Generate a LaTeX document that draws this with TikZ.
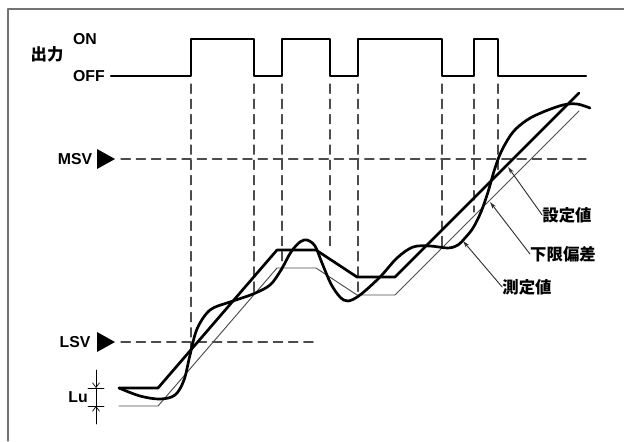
\documentclass[tikz,border=0pt]{standalone}
\usepackage{fontspec}
\setmainfont{Liberation Sans}
\newfontfamily\jpfont{Noto Sans CJK JP}
\usetikzlibrary{arrows.meta}

\begin{document}
\begin{tikzpicture}[line cap=round,line join=round,x=0.03cm,y=-0.03cm,
  lbl/.style={font=\fontsize{13.5}{15}\selectfont\bfseries,inner sep=0pt},
  jlbl/.style={font=\fontsize{14}{16}\selectfont\jpfont\bfseries,inner sep=0pt},
  guide/.style={line width=0.9pt,color=black!70,dash pattern=on 8pt off 5pt},
  pulse/.style={line width=1.9pt},
  heavy/.style={line width=2.3pt},
  lower/.style={line width=0.8pt,color=black!70},
  leader/.style={line width=0.8pt,color=black!80,-{Stealth[length=6pt,width=3.5pt]}},
  tol/.style={line width=0.6pt,-{Straight Barb[length=4pt,width=6pt]}}]
\useasboundingbox (0,0) rectangle (624,441);
\draw [line width=1.1pt,color=black!55] (8,441)--(8,9)--(624,9);
\node[jlbl] (output) at (47,54) {出力};
\node[lbl] (on) at (85,39) {ON};
\node[lbl] (off) at (89,76) {OFF};
\node[lbl] (msv) at (75,159) {MSV};
\node[lbl] (lsv) at (75,342) {LSV};
\node[lbl] (lu) at (78,397) {Lu};
\node[jlbl] (setlbl) at (567,215) {設定値};
\node[jlbl] (lowlbl) at (563,254) {下限偏差};
\node[jlbl] (measlbl) at (527,287) {測定値};
\draw [pulse] ([xshift=5pt]off.east)--(191,76)--(191,39)--(254,39)--(254,76)--(282,76)--(282,39)--(330,39)--(330,76)--(358,76)--(358,39)--(442,39)--(442,76)--(474,76)--(474,39)--(498,39)--(498,76)--(586,76);
\foreach \x/\y in {191/350,254/293,282/270,330/251,358/292,442/248,474/212,498/170}
  \draw [guide] (\x,84)--(\x,\y);
\fill (97,149)--(115,159)--(97,169)--cycle;
\fill (97,332)--(115,342)--(97,352)--cycle;
\draw [guide] (121,159)--(586,159);
\draw [guide] (121,342)--(318,342);
\draw [line width=0.7pt] (88,388)--(104,388);
\draw [line width=0.7pt] (88,406)--(104,406);
\draw [line width=0.6pt] (96,388)--(96,406);
\draw [tol] (96,370)--(96,388);
\draw [tol] (96,424)--(96,406);
\draw [lower] (119,406)--(158,406)--(277,268)--(316,268)--(357,295)--(395,295)--(579,111);
\draw [heavy] (119,388)--(158,388)--(277,250)--(316,250)--(357,277)--(395,277)--(579,93);
\draw [heavy] plot[smooth,tension=0.55] coordinates {(119,388) (140,396) (160,399) (175,395) (184,380) (190,355) (197,329) (210,310) (230,302) (253,294) (270,285) (281,270) (291,252) (300,242) (307,240) (315,246) (322,263) (331,284) (340,297) (348,301) (360,295) (380,277) (397,258) (413,247) (430,246) (448,248) (458,245) (465,238) (473,228) (481,212) (488,192) (495,168) (502,150) (513,132) (527,120) (543,112) (563,105) (577,104) (590,108)};
\coordinate (settip) at (508,167);
\coordinate (lowtip) at (490,202);
\coordinate (meastip) at (463,241);
\draw [leader] (setlbl.west)--(settip);
\draw [leader] (lowlbl.west)--(lowtip);
\draw [leader] (measlbl.west)--(meastip);
\end{tikzpicture}
\end{document}
